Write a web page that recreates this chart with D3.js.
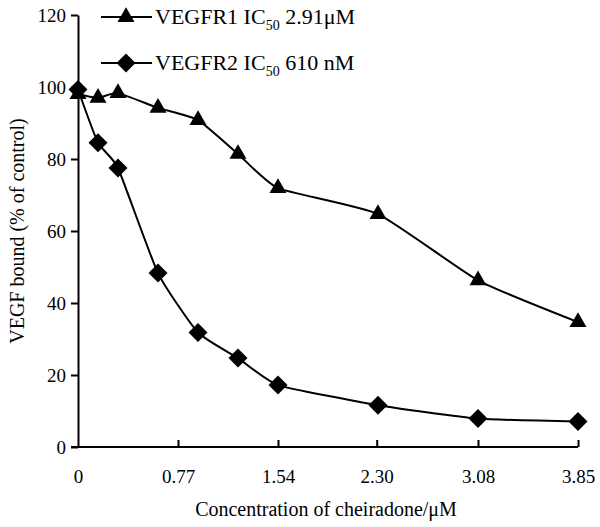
<!DOCTYPE html>
<html><head><meta charset="utf-8">
<script src="https://cdn.jsdelivr.net/npm/d3@7"></script>
<style>body{margin:0;background:#fff}svg{display:block}text{font-family:"Liberation Serif","Times New Roman",serif;fill:#000}</style>
</head><body><svg id="c" width="600" height="527"></svg>
<script>
const concentrations = [0, 0.154, 0.308, 0.616, 0.924, 1.232, 1.54, 2.31, 3.08, 3.85];
const vegfr1 = [98, 97, 98.3, 94.2, 90.8, 81.4, 71.9, 64.7, 46.3, 34.7];
const vegfr2 = [99.3, 84.5, 77.5, 48.3, 31.8, 24.7, 17.2, 11.6, 7.9, 7.1];
const xTickValues = [0, 0.77, 1.54, 2.30, 3.08, 3.85];
const xTickLabels = ["0", "0.77", "1.54", "2.30", "3.08", "3.85"];
const yTickValues = [0, 20, 40, 60, 80, 100, 120];

const FONT = "Liberation Serif";
const svg = d3.select("#c");
const x = d3.scaleLinear().domain([0, 3.85]).range([78, 578]);
const y = d3.scaleLinear().domain([0, 120]).range([447, 15]);

// axes
const yAxis = svg.append("g").attr("transform", "translate(78,0)")
  .call(d3.axisLeft(y).tickValues(yTickValues).tickSize(7).tickPadding(5).tickSizeOuter(0))
  .attr("font-family", FONT).attr("font-size", 19);
yAxis.select(".domain").attr("stroke-width", 2);
yAxis.selectAll(".tick line").attr("stroke-width", 2);

const xAxis = svg.append("g").attr("transform", "translate(0,447)")
  .call(d3.axisBottom(x).tickValues(xTickValues).tickFormat((d, i) => xTickLabels[i]).tickSize(-7).tickPadding(23).tickSizeOuter(0))
  .attr("font-family", FONT).attr("font-size", 19);
xAxis.select(".domain").attr("stroke-width", 2).attr("d", "M71,0H578");
xAxis.selectAll(".tick line").attr("stroke-width", 2);
xAxis.selectAll(".tick").filter(d => d === 0).select("line").remove();

// titles
svg.append("text").attr("x", 326).attr("y", 516).attr("text-anchor", "middle")
  .attr("font-size", 20).text("Concentration of cheiradone/μM");
svg.append("text").attr("transform", "translate(24,231) rotate(-90)").attr("text-anchor", "middle")
  .attr("font-size", 20).text("VEGF bound (% of control)");

const line = d3.line().x(d => x(d[0])).y(d => y(d[1])).curve(d3.curveCardinal.tension(0.5));
const tri = d3.symbol().type(d3.symbolTriangle).size(125);
const dia = "M0,-9.5L9.5,0L0,9.5L-9.5,0Z";

function series(vals, shape) {
  const pts = concentrations.map((c, i) => [c, vals[i]]);
  svg.append("path").datum(pts).attr("d", line).attr("fill", "none").attr("stroke", "#000").attr("stroke-width", 2);
  svg.selectAll(null).data(pts).enter().append("path")
    .attr("transform", d => `translate(${x(d[0])},${y(d[1])})`)
    .attr("d", shape).attr("fill", "#000");
}
series(vegfr2, dia);
series(vegfr1, tri());

// legend
const legend = [
  {yy: 17, shape: tri(), name: "VEGFR1 IC", sub: "50", rest: " 2.91μM"},
  {yy: 63, shape: dia, name: "VEGFR2 IC", sub: "50", rest: " 610 nM"}
];
legend.forEach(l => {
  svg.append("line").attr("x1", 101).attr("x2", 152).attr("y1", l.yy).attr("y2", l.yy).attr("stroke", "#000").attr("stroke-width", 2);
  svg.append("path").attr("transform", `translate(126,${l.yy})`).attr("d", l.shape).attr("fill", "#000");
  const t = svg.append("text").attr("x", 155).attr("y", l.yy + 7).attr("font-size", 22);
  t.append("tspan").text(l.name);
  t.append("tspan").attr("dy", 6).attr("font-size", 14).text(l.sub);
  t.append("tspan").attr("dy", -6).text(l.rest);
});
</script></body></html>
